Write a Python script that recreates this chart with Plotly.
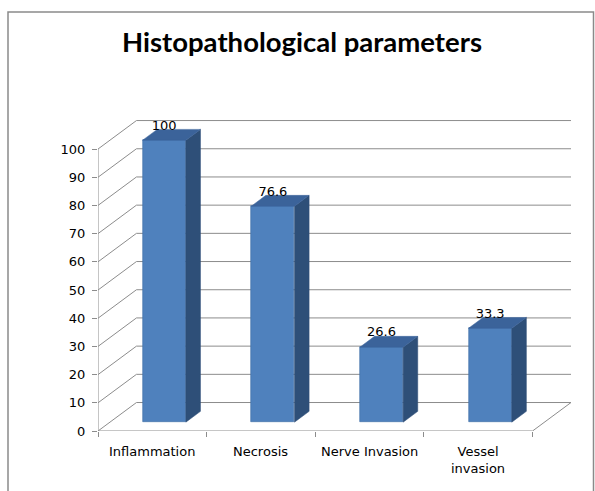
import plotly.graph_objects as go

# ---- data ----
categories = ["Inflammation", "Necrosis", "Nerve Invasion", "Vessel<br>invasion"]
values = [100, 76.6, 26.6, 33.3]
value_labels = ["100", "76.6", "26.6", "33.3"]
y_ticks = [0, 10, 20, 30, 40, 50, 60, 70, 80, 90, 100]

# ---- pseudo-3D geometry (in axis units) ----
DX = 0.354      # depth offset along x (full depth)
DY = 10.1       # depth offset along y (full depth)
F0 = 0.31       # depth position of bar front face
FD = 0.38       # bar depth (fraction of full depth)
BW = 0.398      # bar width
n = len(categories)
X0, X1 = -0.5, n - 0.5

GRID = "#8c8c8c"
FRONT = "#4F81BD"
SIDE = "#2E4F78"
TOP = "#3B639A"
FONT = "DejaVu Sans"

fig = go.Figure()
shapes = []

def seg(xa, ya, xb, yb, color=GRID, w=1):
    shapes.append(dict(type="line", xref="x", yref="y", x0=xa, y0=ya, x1=xb, y1=yb,
                       line=dict(color=color, width=w), layer="below"))

# back wall gridlines + diagonals
for v in y_ticks:
    seg(X0 + DX, v + DY, X1 + DX, v + DY)
    seg(X0, v, X0 + DX, v + DY)
# front vertical axis line
seg(X0, 0, X0, y_ticks[-1])
# floor front edge and right edge
seg(X0, 0, X1, 0)
seg(X1, 0, X1 + DX, DY)

# bars
xs_front = [i + F0 * DX for i in range(n)]
base = F0 * DY
fig.add_trace(go.Bar(x=xs_front, y=values, base=[base] * n, width=BW,
                     marker=dict(color=FRONT, line=dict(color="#3D6DA5", width=0.6)),
                     hoverinfo="skip", showlegend=False))

dxb, dyb = FD * DX, FD * DY
for i, v in enumerate(values):
    xl = xs_front[i] - BW / 2
    xr = xs_front[i] + BW / 2
    b0, b1 = base, base + v
    # side face
    fig.add_trace(go.Scatter(x=[xr, xr + dxb, xr + dxb, xr, xr], y=[b0, b0 + dyb, b1 + dyb, b1, b0],
                             mode="lines", fill="toself", fillcolor=SIDE,
                             line=dict(color=SIDE, width=0.5), hoverinfo="skip", showlegend=False))
    # top face
    fig.add_trace(go.Scatter(x=[xl, xr, xr + dxb, xl + dxb, xl], y=[b1, b1, b1 + dyb, b1 + dyb, b1],
                             mode="lines", fill="toself", fillcolor=TOP,
                             line=dict(color=TOP, width=0.5), hoverinfo="skip", showlegend=False))

# data labels
fig.add_trace(go.Scatter(x=xs_front, y=[v + base + dyb - 1.2 for v in values], mode="text",
                         text=value_labels, textposition="top center",
                         textfont=dict(family=FONT, size=13, color="#000000"),
                         hoverinfo="skip", showlegend=False, cliponaxis=False))

# category labels
annotations = []
for i, c in enumerate(categories):
    annotations.append(dict(x=i, y=0, xref="x", yref="y", text=c, showarrow=False,
                            xanchor="center", yanchor="top", yshift=-11,
                            font=dict(family=FONT, size=13, color="#000000")))
annotations.append(dict(x=-0.997, y=49.3, xref="x", yref="y", text="%", showarrow=False,
                        xanchor="center", yanchor="middle",
                        font=dict(family=FONT, size=13, color="#000000")))

# outer frame
W, H = 595, 491
L, R, T, B = 98, 24, 120, 60
pw, ph = W - L - R, H - T - B
def px2paper_x(px):
    return (px - L) / pw
def px2paper_y(py):
    return (H - B - py) / ph
shapes.append(dict(type="rect", xref="paper", yref="paper",
                   x0=px2paper_x(8), x1=px2paper_x(593.5), y0=px2paper_y(12), y1=px2paper_y(520),
                   line=dict(color="#8a8a8a", width=1.5), layer="below"))

fig.update_layout(
    width=W, height=H,
    margin=dict(l=L, r=R, t=T, b=B),
    paper_bgcolor="white", plot_bgcolor="rgba(0,0,0,0)",
    title=dict(text="<b>Histopathological parameters</b>", x=302 / W, xref="container", xanchor="center",
               y=1 - 42 / H, yref="container", yanchor="middle",
               font=dict(family="Lato", size=27.5, color="#000000")),
    shapes=shapes, annotations=annotations, showlegend=False,
    xaxis=dict(range=[X0, X1 + DX], showgrid=False, zeroline=False, showline=False,
               tickvals=[k - 0.5 for k in range(n + 1)], ticktext=[""] * (n + 1),
               ticks="outside", ticklen=5, tickcolor=GRID, tickwidth=1, fixedrange=True),
    yaxis=dict(range=[0, 110.3], showgrid=False, zeroline=False, showline=False,
               tickvals=y_ticks, ticks="outside", ticklen=5, tickcolor=GRID, tickwidth=1,
               ticklabelstandoff=4,
               tickfont=dict(family=FONT, size=13, color="#000000"), fixedrange=True),
    bargap=0,
)

fig.write_html("out.html", config={"displayModeBar": False},
               post_script="document.body.style.margin='0';document.body.style.overflow='hidden';")
